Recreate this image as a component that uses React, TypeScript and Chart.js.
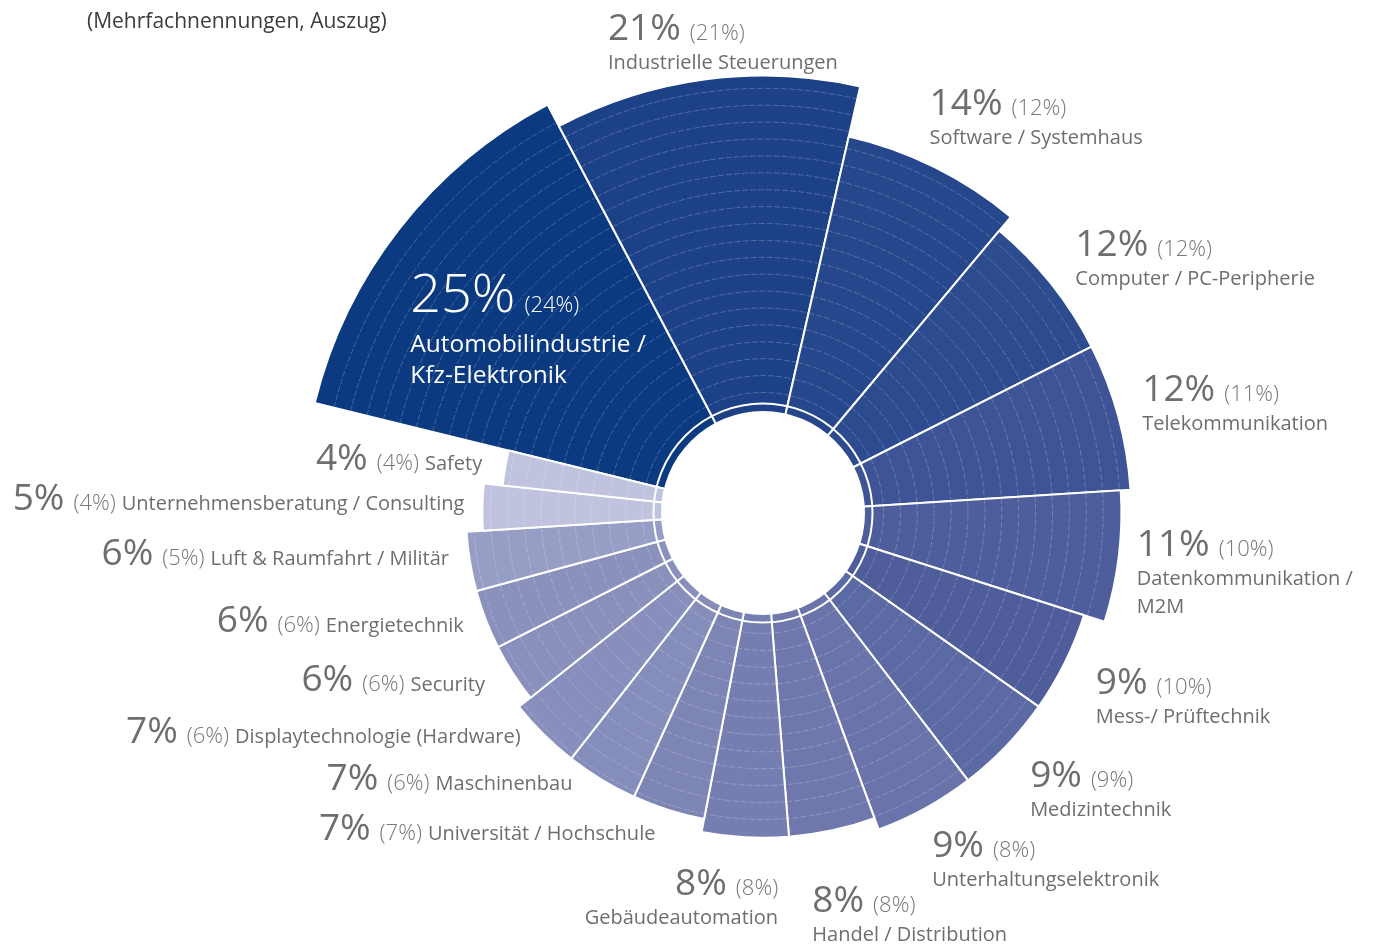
import React, { useEffect, useRef } from 'react';
import { Chart, registerables, RadialLinearScale } from 'chart.js';

// ---------- data ----------
const categories: string[][] = [
  ['Automobilindustrie /', 'Kfz-Elektronik'],
  ['Industrielle Steuerungen'],
  ['Software / Systemhaus'],
  ['Computer / PC-Peripherie'],
  ['Telekommunikation'],
  ['Datenkommunikation /', 'M2M'],
  ['Mess-/ Prüftechnik'],
  ['Medizintechnik'],
  ['Unterhaltungselektronik'],
  ['Handel / Distribution'],
  ['Gebäudeautomation'],
  ['Universität / Hochschule'],
  ['Maschinenbau'],
  ['Displaytechnologie (Hardware)'],
  ['Security'],
  ['Energietechnik'],
  ['Luft & Raumfahrt / Militär'],
  ['Unternehmensberatung / Consulting'],
  ['Safety'],
];
const currentShare = [25, 21, 14, 12, 12, 11, 9, 9, 9, 8, 8, 7, 7, 7, 6, 6, 6, 5, 4];
const previousShare = [24, 21, 12, 12, 11, 10, 10, 9, 8, 8, 8, 7, 6, 6, 6, 6, 5, 4, 4];
const segmentColors = [
  '#0b3a80', '#1d4186', '#26478b', '#2d4b8f', '#3f5496', '#4e5d9b', '#4f5e9b',
  '#5c6aa3', '#6a74aa', '#6f78ac', '#757eb0', '#7d85b5', '#858dbb', '#888fbc',
  '#8990bc', '#8a91bd', '#979ec5', '#c0c3de', '#c0c3de',
];
const subtitle = '(Mehrfachnennungen, Auszug)';

// label layout: alignment and nudge from the outer middle of each arc
const labelAlign = ['inside', 'left', 'left', 'left', 'left', 'left', 'left', 'left', 'left', 'left',
  'rightStack', 'right', 'right', 'right', 'right', 'right', 'right', 'right', 'right'];
const labelNudge: [number, number][] = [
  [11, 83], [-98, -39], [-5, -52], [24, -28], [24, -15], [18, -1], [31, 31], [24, 41], [7, 49],
  [-20, 82], [33, 58], [-13, 30], [-29, 11], [-23, 9], [-28, 18], [-22, 12], [-21, 3], [-18, 3], [-23, 2],
];

// ---------- custom radial scale (power mapping) ----------
class PowerRadialScale extends RadialLinearScale {
  static id = 'radialPower';
  getDistanceFromCenterForValue(value: any) {
    if (value === null || value === undefined || isNaN(value)) return NaN;
    const EXP = 0.3;
    const OFF = 0.0606;
    const f = (v: number) => Math.pow(Math.max(v, 0), EXP) - OFF;
    return (this as any).drawingArea * f(value) / f((this as any).max);
  }
}

Chart.register(...registerables, PowerRadialScale);

const FONT = '"Open Sans", "Noto Sans", sans-serif';
const GREY = '#6e6e6e';
const PAREN_GREY = '#787878';
const REF_AREA = 431;

const decorPlugin = {
  id: 'decor',
  afterDatasetsDraw(chart: any) {
    const ctx = chart.ctx;
    const meta = chart.getDatasetMeta(0);
    const scale = chart.scales.r;
    const s = scale.drawingArea / REF_AREA;
    meta.data.forEach((arc: any) => {
      const p = arc.getProps(['x', 'y', 'startAngle', 'endAngle', 'outerRadius'], true);
      ctx.save();
      ctx.beginPath();
      ctx.moveTo(p.x, p.y);
      ctx.arc(p.x, p.y, p.outerRadius - 1, p.startAngle, p.endAngle);
      ctx.closePath();
      ctx.clip();
      ctx.strokeStyle = 'rgba(255,255,255,0.22)';
      ctx.lineWidth = 1;
      ctx.setLineDash([6, 2]);
      for (let r = 120.5 * s; r < p.outerRadius - 5; r += 16.9 * s) {
        ctx.beginPath();
        ctx.arc(p.x, p.y, r, p.startAngle, p.endAngle);
        ctx.stroke();
      }
      ctx.restore();
    });
    // hole and ring
    const cx = scale.xCenter, cy = scale.yCenter;
    ctx.save();
    ctx.fillStyle = '#ffffff';
    ctx.beginPath();
    ctx.arc(cx, cy, 102 * s, 0, Math.PI * 2);
    ctx.fill();
    ctx.strokeStyle = '#ffffff';
    ctx.lineWidth = 2;
    ctx.beginPath();
    ctx.arc(cx, cy, 109.5 * s, 0, Math.PI * 2);
    ctx.stroke();
    ctx.restore();
  },
  afterDraw(chart: any) {
    const ctx = chart.ctx;
    const meta = chart.getDatasetMeta(0);
    ctx.save();
    ctx.textBaseline = 'alphabetic';
    // subtitle
    ctx.font = `400 21px ${FONT}`;
    ctx.fillStyle = '#3c3c3c';
    ctx.textAlign = 'left';
    ctx.fillText(subtitle, 87, 28);

    const bigFont = `400 37px ${FONT}`;
    const smallFont = `300 22px ${FONT}`;
    const nameFont = `400 20px ${FONT}`;

    meta.data.forEach((arc: any, i: number) => {
      const p = arc.getProps(['x', 'y', 'startAngle', 'endAngle', 'outerRadius'], true);
      const mid = (p.startAngle + p.endAngle) / 2;
      const ax = p.x + Math.cos(mid) * p.outerRadius + labelNudge[i][0];
      const ay = p.y + Math.sin(mid) * p.outerRadius + labelNudge[i][1];
      const big = `${currentShare[i]}%`;
      const small = `(${previousShare[i]}%)`;
      const names = categories[i];
      const align = labelAlign[i];
      ctx.textAlign = 'left';
      if (align === 'inside') {
        ctx.fillStyle = '#ffffff';
        ctx.font = `300 54px ${FONT}`;
        ctx.fillText(big, ax, ay);
        const w = ctx.measureText(big).width;
        ctx.font = `300 22px ${FONT}`;
        ctx.fillText(small, ax + w + 9, ay);
        ctx.font = `400 24.5px ${FONT}`;
        names.forEach((n, k) => ctx.fillText(n, ax, ay + 40 + k * 31));
      } else if (align === 'left') {
        ctx.fillStyle = GREY;
        ctx.font = bigFont;
        ctx.fillText(big, ax, ay);
        const w = ctx.measureText(big).width;
        ctx.font = smallFont;
        ctx.fillStyle = PAREN_GREY;
        ctx.fillText(small, ax + w + 9, ay);
        ctx.font = nameFont;
        ctx.fillStyle = GREY;
        names.forEach((n, k) => ctx.fillText(n, ax, ay + 29 + k * 28));
      } else if (align === 'rightStack') {
        ctx.font = smallFont;
        const ws = ctx.measureText(small).width;
        ctx.fillStyle = PAREN_GREY;
        ctx.fillText(small, ax - ws, ay);
        ctx.font = bigFont;
        ctx.fillStyle = GREY;
        const wb = ctx.measureText(big).width;
        ctx.fillText(big, ax - ws - 9 - wb, ay);
        ctx.font = nameFont;
        names.forEach((n, k) => {
          const wn = ctx.measureText(n).width;
          ctx.fillText(n, ax - wn, ay + 29 + k * 28);
        });
      } else {
        const name = names.join(' ');
        ctx.font = nameFont;
        const wn = ctx.measureText(name).width;
        ctx.fillStyle = GREY;
        ctx.fillText(name, ax - wn, ay);
        ctx.font = smallFont;
        const ws = ctx.measureText(small).width;
        ctx.fillStyle = PAREN_GREY;
        ctx.fillText(small, ax - wn - 6 - ws, ay);
        ctx.font = bigFont;
        const wb = ctx.measureText(big).width;
        ctx.fillStyle = GREY;
        ctx.fillText(big, ax - wn - 6 - ws - 9 - wb, ay);
      }
    });
    ctx.restore();
  },
};

export default function App() {
  const ref = useRef<HTMLCanvasElement>(null);
  useEffect(() => {
    document.body.style.margin = '0';
    const total = currentShare.reduce((a, b) => a + b, 0);
    const angles = currentShare.map((v) => (v / total) * 360);
    const chart = new Chart(ref.current as HTMLCanvasElement, {
      type: 'polarArea',
      data: {
        labels: categories.map((c) => c.join(' ')),
        datasets: [
          {
            data: currentShare,
            backgroundColor: segmentColors,
            borderColor: '#ffffff',
            borderWidth: 2,
            angle: angles,
            clip: false,
          } as any,
        ],
      },
      options: {
        responsive: false,
        animation: false,
        events: [],
        layout: { padding: { left: 153, right: 0, top: 82, bottom: 0 } },
        plugins: { legend: { display: false }, tooltip: { enabled: false } },
        scales: {
          r: {
            type: 'radialPower' as any,
            min: 0,
            max: 20,
            startAngle: 283.8,
            display: false,
            ticks: { display: false },
            grid: { display: false },
            pointLabels: { display: false },
          } as any,
        },
      },
      plugins: [decorPlugin],
    });
    return () => chart.destroy();
  }, []);
  return (
    <div style={{ position: 'fixed', left: 0, top: 0, width: 1373, height: 944, background: '#ffffff' }}>
      <canvas ref={ref} width={1373} height={944} style={{ display: 'block' }} />
    </div>
  );
}
